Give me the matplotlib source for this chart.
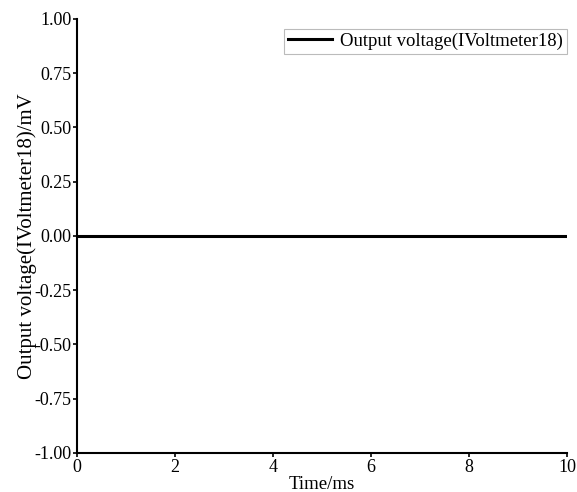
import matplotlib
matplotlib.use("Agg")
import matplotlib.pyplot as plt
import numpy as np

plt.rcParams['font.family'] = ['Liberation Serif', 'DejaVu Serif']

time_ms = [0, 10]
voltage_mV = [0.0, 0.0]
x_ticks = [0, 2, 4, 6, 8, 10]
y_ticks = [-1.00, -0.75, -0.50, -0.25, 0.00, 0.25, 0.50, 0.75, 1.00]

fig = plt.figure(figsize=(5.77, 4.92), dpi=100)
ax = fig.add_axes([0.1335, 0.0793, 0.8492, 0.8821])
ax.plot(time_ms, voltage_mV, color='black', linewidth=2.2, label='Output voltage(IVoltmeter18)')
ax.set_xlim(0, 10)
ax.set_ylim(-1, 1)
ax.set_xticks(x_ticks)
ax.set_yticks(y_ticks)
ax.set_yticklabels([f"{v:.2f}" for v in y_ticks])
for s in ['top', 'right']:
    ax.spines[s].set_visible(False)
for s in ['left', 'bottom']:
    ax.spines[s].set_linewidth(1.5)
ax.tick_params(direction='out', length=3, width=1.2, labelsize=13, pad=1)
ax.set_xlabel('Time/ms', fontsize=13.5, labelpad=0)
ax.set_ylabel('Output voltage(IVoltmeter18)/mV', fontsize=15, labelpad=-2)
leg = ax.legend(loc='upper right', bbox_to_anchor=(1.0, 1 - 10/434), borderaxespad=0,
                fontsize=13.5, frameon=True, fancybox=False,
                edgecolor='#aaaaaa', handlelength=2.35, handletextpad=0.45,
                borderpad=0.2)
leg.get_frame().set_linewidth(0.8)
fig.savefig('out.png', dpi=100)
